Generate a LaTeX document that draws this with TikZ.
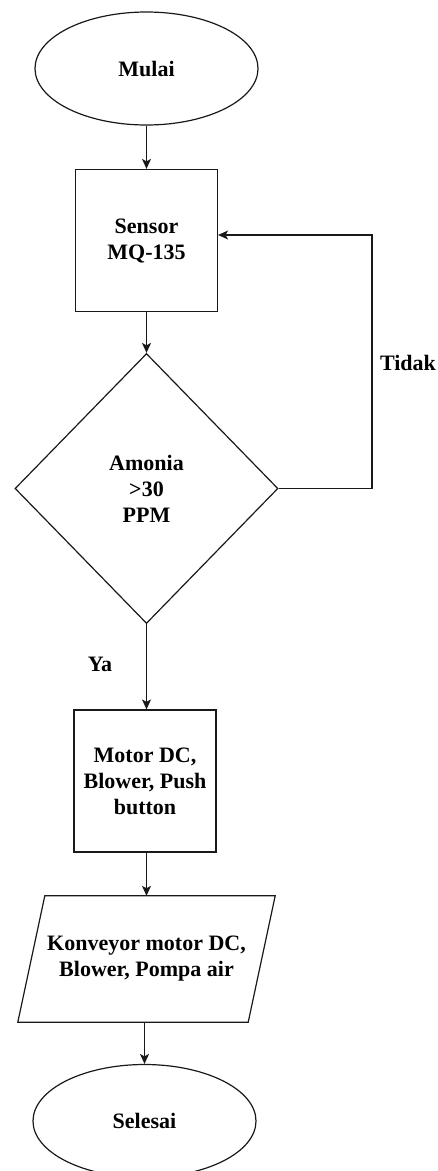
\documentclass[tikz,border=0pt]{standalone}
\usepackage{fontspec}
\setmainfont{Liberation Serif}
\usetikzlibrary{shapes.geometric,arrows.meta}
\begin{document}
\begin{tikzpicture}[x=1pt,y=-1pt,
  every node/.style={font=\bfseries\fontsize{22}{26}\selectfont, align=center, inner sep=0pt},
  term/.style={draw, ellipse, minimum width=223pt, minimum height=113pt},
  proc/.style={draw, rectangle, minimum width=142pt, minimum height=142pt},
  dec/.style={draw, diamond, minimum width=263pt, minimum height=270pt},
  iobox/.style={rectangle, minimum width=230pt, minimum height=126pt},
  line/.style={line width=1.2pt, draw=black!90},
  arr/.style={line, -{Stealth[length=10pt,width=9pt,inset=2.5pt]}},
  lbl/.style={font=\bfseries\fontsize{22}{26}\selectfont}
]
\useasboundingbox (0,0) rectangle (438,1171);
\node[term, line] (start) at (146.5,68.5) {Mulai};
\node[proc, line] (sensor) at (146.5,240.5) {Sensor\\MQ-135};
\node[dec, line] (cond) at (146.5,488.5) {Amonia\\>30\\PPM};
\node[proc, line] (motor) at (145,781) {Motor DC,\\Blower, Push\\button};
\node[iobox] (io) at (146.5,959) {Konveyor motor DC,\\Blower, Pompa air};
\draw[line] ([xshift=13.5pt]io.north west) -- ([xshift=13.5pt]io.north east)
  -- ([xshift=-13.5pt]io.south east) -- ([xshift=-13.5pt]io.south west) -- cycle;
\node[term, line] (end) at (144.5,1121) {Selesai};

\coordinate (c1) at (372,488.5);
\coordinate (c2) at (372,235);

\draw[arr] (start.south) -- (sensor.north);
\draw[arr] (sensor.south) -- (cond.north);
\draw[arr] (cond.east) -- (c1) -- (c2) -- (sensor.east |- c2);
\draw[arr] (cond.south) -- (cond.south |- motor.north);
\draw[arr] (motor.south -| cond.south) -- (io.north -| cond.south);
\draw[arr] (io.south -| end.north) -- (end.north);

\node[lbl] (tidak) at (408,363) {Tidak};
\node[lbl] (ya) at (100,664) {Ya};
\end{tikzpicture}
\end{document}
